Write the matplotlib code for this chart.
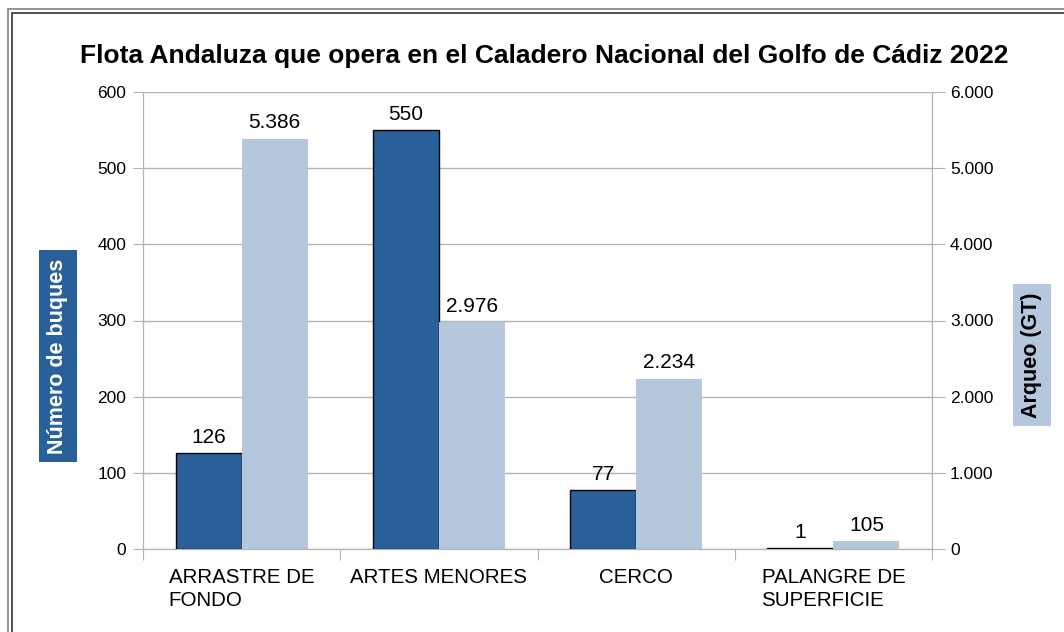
import matplotlib.pyplot as plt
from matplotlib.patches import Rectangle
from matplotlib.ticker import FuncFormatter

plt.rcParams['font.family'] = ['Liberation Sans', 'DejaVu Sans']

# Datos
categorias = ['ARRASTRE DE\nFONDO', 'ARTES MENORES', 'CERCO', 'PALANGRE DE\nSUPERFICIE']
buques = [126, 550, 77, 1]
arqueo = [5386, 2976, 2234, 105]

c_oscuro = '#2A6099'
c_claro = '#B4C7DC'
c_gris = '#b3b3b3'


def miles(v, pos=None):
    return f'{int(round(v)):,}'.replace(',', '.')


fig = plt.figure(figsize=(10.64, 6.32), dpi=100)
ax = fig.add_axes([143 / 1064, 83 / 632, 789 / 1064, 457 / 632])
ax2 = ax.twinx()

w = 0.335
x = list(range(len(categorias)))

# Buques (eje izquierdo)
ax.bar([i - w / 2 for i in x], buques, w, color=c_oscuro, edgecolor='black', linewidth=1, zorder=3)
ax.set_ylim(0, 600)
ax.set_xlim(-0.5, len(categorias) - 0.5)
ax.set_yticks(range(0, 601, 100))
ax.grid(axis='y', color=c_gris, linewidth=1, zorder=0)
ax.set_axisbelow(True)

# Arqueo (eje derecho)
ax2.bar([i + w / 2 for i in x], arqueo, w, color=c_claro, linewidth=0, zorder=3)
ax2.set_ylim(0, 6000)
ax2.set_yticks(range(0, 6001, 1000))
ax2.yaxis.set_major_formatter(FuncFormatter(miles))

for i, v in enumerate(buques):
    ax.annotate(str(v), (i - w / 2, v), xytext=(0, 11.5), textcoords='offset points',
                ha='center', va='center', fontsize=15)
for i, v in enumerate(arqueo):
    ax2.annotate(miles(v), (i + w / 2, v), xytext=(0, 11.5), textcoords='offset points',
                 ha='center', va='center', fontsize=15)

# Ejes y ticks
for a in (ax, ax2):
    for s in a.spines.values():
        s.set_color(c_gris)
    a.spines['top'].set_visible(False)
ax.tick_params(axis='y', length=7, color=c_gris, labelsize=12.5, pad=5)
ax2.tick_params(axis='y', length=9, color=c_gris, labelsize=12.5, pad=4)

ax.set_xticks([i - 0.5 for i in range(len(categorias) + 1)])
ax.set_xticklabels([])
ax.tick_params(axis='x', which='major', length=8, color=c_gris)
ax.set_xticks(x, minor=True)
ax.set_xticklabels(categorias, minor=True, fontsize=14.8)
ax.tick_params(axis='x', which='minor', length=0, pad=14)
for t in ax.get_xticklabels(minor=True):
    t.set_multialignment('left')
    t.set_verticalalignment('top')
    t.set_linespacing(1.25)

fig.text(0.511, 0.911, 'Flota Andaluza que opera en el Caladero Nacional del Golfo de Cádiz 2022',
         ha='center', va='center', fontsize=19, fontweight='bold')

fig.text(58 / 1064, 1 - 356 / 632, 'Número de buques', rotation=90, ha='center', va='center',
         fontsize=15.5, fontweight='bold', color='white',
         bbox=dict(boxstyle='square,pad=0.38', facecolor=c_oscuro, edgecolor='none'))
fig.text(1032 / 1064, 1 - 355 / 632, 'Arqueo (GT)', rotation=90, ha='center', va='center',
         fontsize=15.5, fontweight='bold', color='black',
         bbox=dict(boxstyle='square,pad=0.38', facecolor=c_claro, edgecolor='none'))

# Marco doble
fig.patches.append(Rectangle((8 / 1064, -0.1), 1.2, 1 - 9 / 632 + 0.1, transform=fig.transFigure,
                             fill=False, edgecolor='#7f7f7f', linewidth=1.2))
fig.patches.append(Rectangle((11.5 / 1064, -0.1), 1.2, 1 - 12.5 / 632 + 0.1, transform=fig.transFigure,
                             fill=False, edgecolor='#333333', linewidth=1.2))

fig.savefig('out.png', dpi=100)
